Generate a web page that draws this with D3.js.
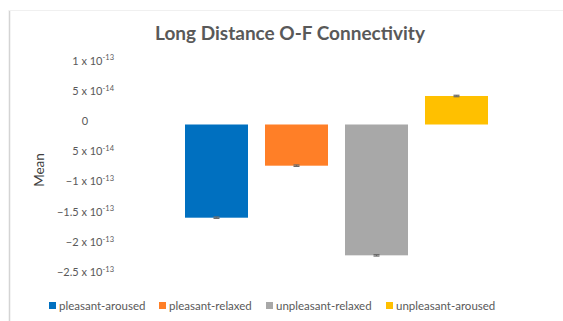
<!DOCTYPE html>
<html>
<head>
<meta charset="utf-8">
<script src="https://cdn.jsdelivr.net/npm/d3@7"></script>
<style>
  html, body { margin: 0; padding: 0; background: #fff; }
  svg { display: block; font-family: Lato, "Open Sans", "Noto Sans", sans-serif; }
</style>
</head>
<body>
<svg id="chart" width="563" height="321"></svg>
<script>
// Condition labels and mean connectivity values
const categories = ["pleasant-aroused", "pleasant-relaxed", "unpleasant-relaxed", "unpleasant-aroused"];
const means = [-1.543e-13, -6.82e-14, -2.166e-13, 4.72e-14];
const errors = [1.2e-15, 1.2e-15, 1.2e-15, 1.2e-15];
const colors = ["#0070C0", "#FF7F27", "#A8A8A8", "#FFC000"];

// Y-axis ticks, written as mantissa x 10^exponent
const tickValues = [1e-13, 5e-14, 0, -5e-14, -1e-13, -1.5e-13, -2e-13, -2.5e-13];
const tickMantissas = ["1", "5", "0", "5", "\u22121", "\u22121.5", "\u22122", "\u22122.5"];
const tickExponents = ["-13", "-14", "", "-14", "-13", "-13", "-13", "-13"];

const svg = d3.select("#chart");
const textColor = "#595959";

// Chart frame
svg.append("line").attr("x1", 9.5).attr("x2", 9.5).attr("y1", 10).attr("y2", 321)
  .attr("stroke", "#d4d4d4").attr("stroke-width", 1.5);
svg.append("line").attr("x1", 9).attr("x2", 563).attr("y1", 10.5).attr("y2", 10.5)
  .attr("stroke", "#f0f0f0").attr("stroke-width", 1);

// Title
svg.append("text")
  .attr("x", 290).attr("y", 40)
  .attr("text-anchor", "middle")
  .attr("font-size", 19).attr("font-weight", "bold")
  .attr("fill", textColor)
  .text("Long Distance O-F Connectivity");

// Scales
const y = d3.scaleLinear().domain([-2.5e-13, 1e-13]).range([275.5, 64.1]);
const x = d3.scaleBand().domain(categories)
  .range([176.5, 496.5]).paddingInner(0.2125).paddingOuter(0.10625);

// Y axis with scientific-notation labels
const yAxis = svg.append("g").attr("transform", "translate(114,0)")
  .call(d3.axisLeft(y).tickValues(tickValues).tickSize(0).tickPadding(0).tickFormat(""));
yAxis.select(".domain").remove();
yAxis.selectAll(".tick text").each(function(d, i) {
  const t = d3.select(this)
    .attr("fill", textColor)
    .attr("font-size", 11)
    .attr("font-family", "Lato, 'Open Sans', sans-serif")
    .attr("dy", "0.0em")
    .text(null);
  if (tickExponents[i] === "") {
    t.attr("text-anchor", "middle").attr("x", -29).text(tickMantissas[i]);
  } else {
    t.attr("text-anchor", "end").attr("x", 0);
    t.append("tspan").text(tickMantissas[i] + " x 10");
    t.append("tspan").attr("font-size", 7.5).attr("dy", "-0.55em").text(tickExponents[i]);
  }
});

// Y-axis title
svg.append("text")
  .attr("transform", "translate(44,170) rotate(-90)")
  .attr("text-anchor", "middle")
  .attr("font-size", 13.5)
  .attr("fill", "#404040")
  .text("Mean");

// Bars
svg.append("g").selectAll("rect")
  .data(categories)
  .join("rect")
  .attr("x", d => x(d))
  .attr("width", x.bandwidth())
  .attr("y", (d, i) => y(Math.max(0, means[i])))
  .attr("height", (d, i) => Math.abs(y(means[i]) - y(0)))
  .attr("fill", (d, i) => colors[i]);

// Error bars
const eb = svg.append("g").attr("stroke", "#6b6b6b").attr("stroke-width", 1.2);
categories.forEach((c, i) => {
  const cx = x(c) + x.bandwidth() / 2;
  const lo = y(means[i] - errors[i]), hi = y(means[i] + errors[i]);
  eb.append("line").attr("x1", cx).attr("x2", cx).attr("y1", lo).attr("y2", hi);
  eb.append("line").attr("x1", cx - 3).attr("x2", cx + 3).attr("y1", lo).attr("y2", lo);
  eb.append("line").attr("x1", cx - 3).attr("x2", cx + 3).attr("y1", hi).attr("y2", hi);
});

// Legend
const legendX = [49, 159, 266, 386];
const legend = svg.append("g");
categories.forEach((c, i) => {
  const g = legend.append("g").attr("transform", `translate(${legendX[i]},302)`);
  g.append("rect").attr("width", 7).attr("height", 7).attr("fill", colors[i]);
  g.append("text").attr("x", 10).attr("y", 7.5)
    .attr("font-size", 11.5).attr("fill", textColor).text(c);
});
</script>
</body>
</html>
